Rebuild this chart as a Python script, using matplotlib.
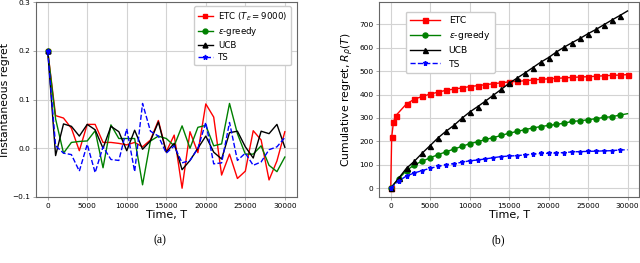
import matplotlib
matplotlib.use("Agg")
import matplotlib.pyplot as plt

# eixo do tempo
t = list(range(0, 31000, 1000))

# regret instantaneo (a)
etc_inst = [0.2, 0.067, 0.062, 0.041, -0.005, 0.049, 0.049, 0.012, 0.012, 0.010, 0.007,
            0.012, 0.003, 0.017, 0.057, -0.007, 0.027, -0.082, 0.034, -0.009, 0.091,
            0.064, -0.055, -0.012, -0.062, -0.047, 0.036, 0.017, -0.065, -0.026, 0.034]
eps_inst = [0.2, 0.06, -0.01, 0.012, 0.014, 0.015, 0.036, -0.04, 0.048, 0.02, 0.02,
            0.02, -0.075, 0.015, 0.025, 0.02, 0.005, 0.046, 0.0, 0.043, 0.047,
            0.005, 0.009, 0.092, 0.03, -0.012, -0.012, 0.005, -0.035, -0.048, -0.018]
ucb_inst = [0.2, -0.015, 0.05, 0.045, 0.025, 0.049, 0.038, 0.0, 0.045, 0.034, -0.005,
            0.037, -0.002, 0.015, 0.054, -0.008, 0.01, -0.044, -0.025, 0.0, 0.025,
            -0.008, -0.022, 0.032, 0.035, 0.003, -0.02, 0.035, 0.03, 0.049, 0.002]
ts_inst = [0.2, 0.005, -0.01, -0.013, -0.047, 0.008, -0.05, 0.003, -0.023, -0.025, 0.04,
           -0.048, 0.092, 0.035, 0.025, -0.01, 0.005, -0.03, -0.025, 0.0, 0.053,
           -0.032, -0.03, 0.053, -0.025, -0.01, -0.035, -0.028, -0.003, 0.003, 0.022]

# regret cumulativo (b)
t_etc = [0, 120, 350, 650] + list(range(2000, 31000, 1000))
etc_cum = [0, 217, 283, 310, 360, 380, 392, 402, 410, 418, 423, 428, 434, 438, 442, 446,
           450, 454, 456, 459, 462, 465, 467, 469, 471, 473, 475, 476, 478, 480, 482, 483, 485]
eps_cum = [0, 40, 75, 100, 115, 130, 143, 155, 167, 178, 190, 198, 208, 216, 225, 235,
           242, 250, 257, 263, 268, 272, 278, 285, 288, 292, 297, 302, 305, 312, 318]
ucb_cum = [0, 42, 85, 115, 150, 182, 215, 243, 268, 298, 325, 348, 372, 397, 422, 448,
           470, 492, 515, 538, 558, 582, 603, 622, 640, 660, 678, 698, 718, 737, 757]
ts_cum = [0, 30, 52, 65, 75, 85, 93, 100, 105, 110, 117, 120, 125, 130, 135, 137,
          139, 142, 145, 148, 149, 150, 152, 155, 156, 157, 158, 159, 160, 163, 164]

fig = plt.figure(figsize=(6.4, 2.63), dpi=100)
ax1 = fig.add_axes([0.056, 0.251, 0.4076, 0.741])
ax2 = fig.add_axes([0.592, 0.251, 0.407, 0.741])

def estilo(eixos):
    eixos.grid(True, color="#d3d3d3", linewidth=0.8)
    eixos.set_axisbelow(True)
    for s in eixos.spines.values():
        s.set_color("#666666")
        s.set_linewidth(0.8)
    eixos.tick_params(labelsize=5.3, length=2, width=0.6, color="#999999", pad=2)
    eixos.set_xticks([0, 5000, 10000, 15000, 20000, 25000, 30000])
    eixos.set_xlabel("Time, T", fontsize=8, labelpad=1)

# (a)
ax1.plot(t, etc_inst, color="red", lw=1, marker="s", ms=3.5, markevery=[0], label="ETC ($T_E = 9000$)")
ax1.plot(t, eps_inst, color="green", lw=1, marker="o", ms=3.5, markevery=[0], label="$\\epsilon$-greedy")
ax1.plot(t, ucb_inst, color="black", lw=1, marker="^", ms=3.5, markevery=[0], label="UCB")
ax1.plot(t, ts_inst, color="blue", lw=1, ls="--", marker="*", ms=3.5, markevery=[0], label="TS")
ax1.set_ylim(-0.1, 0.3)
ax1.set_yticks([-0.1, 0.0, 0.1, 0.2, 0.3])
ax1.set_ylabel("Instantaneous regret", fontsize=7.8, labelpad=2)
estilo(ax1)
ax1.legend(loc="upper right", bbox_to_anchor=(0.995, 1.0), fontsize=6.2, handlelength=1.7,
           handletextpad=0.6, borderpad=0.45, labelspacing=0.3, framealpha=1,
           edgecolor="#cccccc", fancybox=True)

# (b)
ax2.plot(t_etc, etc_cum, color="red", lw=1, marker="s", ms=3.6, label="ETC")
ax2.plot(t, eps_cum, color="green", lw=1, marker="o", ms=3.6, markevery=slice(0, 30), label="$\\epsilon$-greedy")
ax2.plot(t, ucb_cum, color="black", lw=1, marker="^", ms=3.6, markevery=slice(0, 30), label="UCB")
ax2.plot(t, ts_cum, color="blue", lw=1, ls="--", marker="*", ms=3.6, markevery=slice(0, 30), label="TS")
ax2.set_yticks([0, 100, 200, 300, 400, 500, 600, 700])
ax2.set_ylabel("Cumulative regret, $R_\\rho(T)$", fontsize=7.8, labelpad=2)
estilo(ax2)
ax2.legend(loc="upper left", bbox_to_anchor=(0.085, 0.975), fontsize=6.6, handlelength=3.2,
           handletextpad=1.0, borderpad=0.5, labelspacing=0.45, framealpha=1,
           edgecolor="#cccccc", fancybox=True)

fig.text(160 / 640, 1 - 240 / 263, "(a)", fontsize=8.5, family="Liberation Serif", ha="center", va="center")
fig.text(498 / 640, 1 - 240 / 263, "(b)", fontsize=8.5, family="Liberation Serif", ha="center", va="center")

fig.savefig("out.png", dpi=100)
